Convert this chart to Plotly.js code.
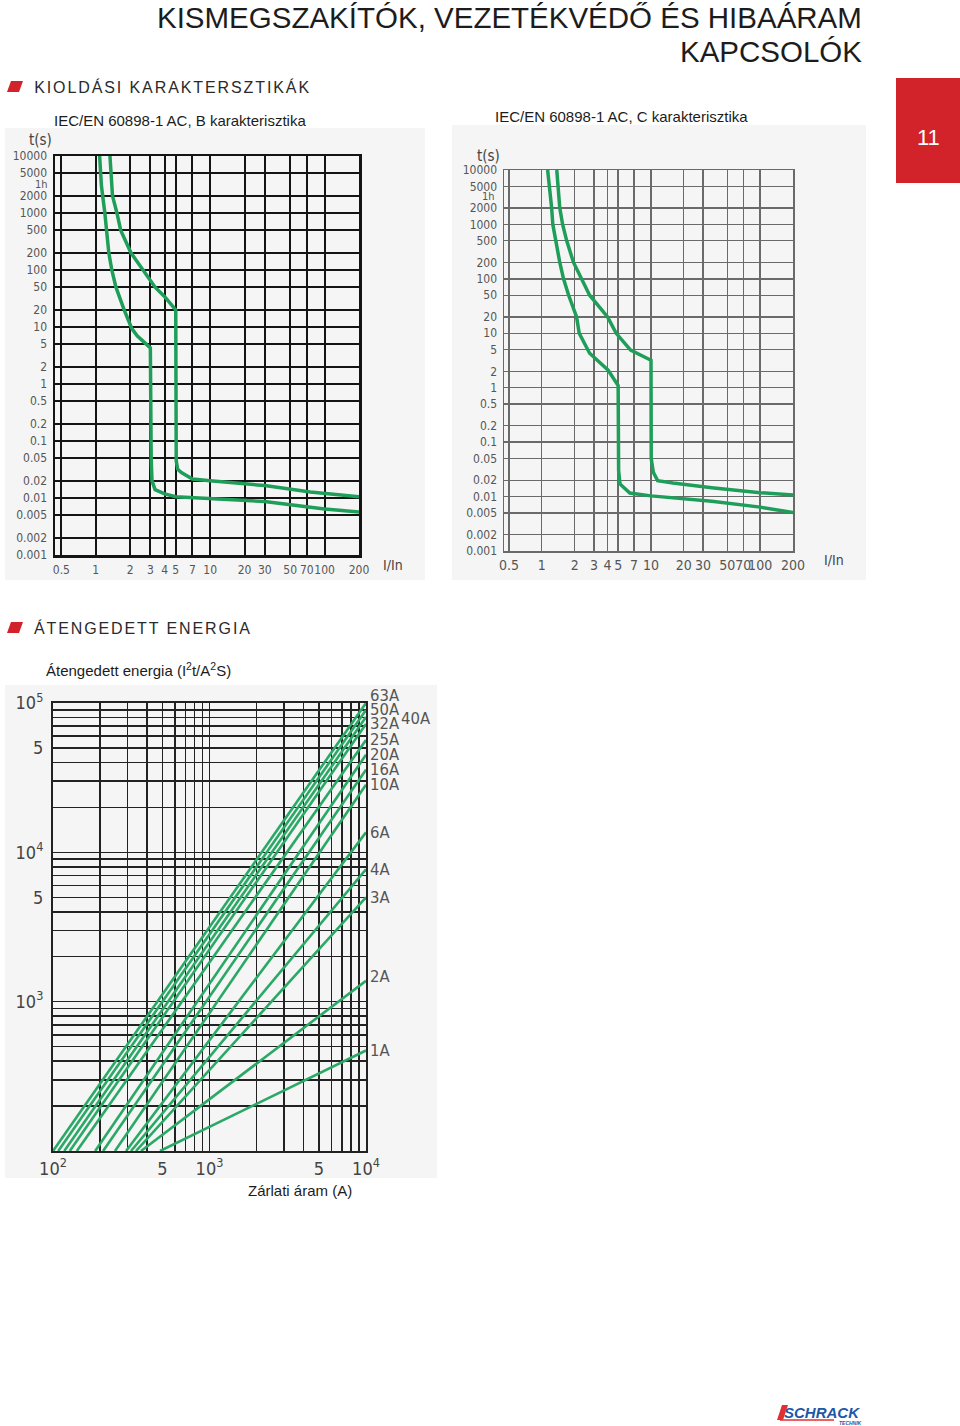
<!DOCTYPE html>
<html><head><meta charset="utf-8">
<script src="https://cdn.plot.ly/plotly-3.0.1.min.js"></script>
<style>html,body{margin:0;padding:0;background:#fff;} #chart{width:960px;height:1426px;}</style>
</head><body><div id="chart"></div>
<script>
// ---------- DATA ----------
const currentTicks = [0.5, 1, 2, 3, 4, 5, 7, 10, 20, 30, 50, 70, 100, 200];
const currentTickText = ['0.5', '1', '2', '3', '4', '5', '7', '10', '20', '30', '50', '70', '100', '200'];
const timeTicks = [0.001, 0.002, 0.005, 0.01, 0.02, 0.05, 0.1, 0.2, 0.5, 1, 2, 5, 10, 20, 50, 100, 200, 500, 1000, 2000, 5000, 10000];
const timeTickText = ['0.001', '0.002', '0.005', '0.01', '0.02', '0.05', '0.1', '0.2', '0.5', '1', '2', '5', '10', '20', '50', '100', '200', '500', '1000', '2000', '5000', '10000'];

// B characteristic
const bLowerX = [1.08, 1.12, 1.2, 1.3, 1.38, 1.5, 1.77, 2.06, 2.3, 2.7, 3.0, 3.05, 3.1, 3.3, 4, 5, 10, 30, 100, 200];
const bLowerT = [10000, 3000, 1000, 200, 100, 50, 20, 9.5, 7, 5.2, 4.3, 0.05, 0.02, 0.014, 0.0118, 0.0105, 0.0097, 0.0087, 0.0064, 0.0057];
const bUpperX = [1.33, 1.4, 1.53, 1.65, 2.03, 2.6, 3.3, 4, 5, 5.05, 5.2, 5.6, 7, 10, 30, 75, 200];
const bUpperT = [10000, 2000, 1000, 500, 200, 100, 50, 34, 20, 0.045, 0.032, 0.028, 0.0215, 0.02, 0.0165, 0.0128, 0.0105];

// C characteristic
const cLowerX = [1.13, 1.18, 1.23, 1.26, 1.34, 1.46, 1.58, 1.76, 2.08, 2.2, 2.74, 4.05, 5.0, 5.05, 5.2, 6.4, 10, 36, 100, 200];
const cLowerT = [10000, 5000, 2000, 1000, 500, 200, 100, 50, 20, 10, 4.3, 2.1, 1.1, 0.03, 0.017, 0.0116, 0.0103, 0.0082, 0.0064, 0.0051];
const cUpperX = [1.37, 1.4, 1.46, 1.55, 1.69, 1.95, 2.3, 2.74, 4.0, 4.8, 6.5, 10, 10.05, 10.5, 11.5, 15.9, 36, 100, 200];
const cUpperT = [10000, 5000, 2000, 1000, 500, 200, 100, 50, 20, 10, 4.9, 3.2, 0.05, 0.028, 0.0196, 0.0177, 0.0145, 0.0118, 0.0107];

// Let-through energy
const energyAmps = ['63A', '50A', '40A', '32A', '25A', '20A', '16A', '10A', '6A', '4A', '3A', '2A', '1A'];
const energyStartI = [100, 108, 118, 128, 142, 186, 209, 249, 293, 315, 339, 365, 483];     // current (A) where I²t = 100
const energyEndE = [100000, 89800, 80700, 72400, 56600, 45000, 35800, 28400, 13600, 7700, 5000, 1380, 471]; // I²t at 10 kA
const energyXTicks = [100, 500, 1000, 5000, 10000];
const energyXTickText = ['10<sup>2</sup>', '5', '10<sup>3</sup>', '5', '10<sup>4</sup>'];
const energyYTicks = [1000, 5000, 10000, 50000, 100000];
const energyYTickText = ['10<sup>3</sup>', '5', '10<sup>4</sup>', '5', '10<sup>5</sup>'];
const energyXGrid = [200, 300, 400, 600, 700, 800, 900, 2000, 3000, 4000, 6000, 7000, 8000, 9000];
const energyYGrid = [200, 300, 400, 500, 600, 700, 800, 900, 2000, 3000, 4000, 6000, 7000, 8000, 9000, 20000, 30000, 40000, 60000, 70000, 80000, 90000];

// ---------- HELPERS ----------
const W = 960, H = 1426;
const px = x => x / W;
const py = y => 1 - y / H;
const COND = 'DejaVu Sans Condensed, Liberation Sans Narrow, Arial Narrow, sans-serif';
const SANS = 'Liberation Sans, Arial, Helvetica, sans-serif';
const GREEN = '#1f9e5a';
const EGREEN = '#2aa865';
const RED = '#d2232a';

const traces = [];
function curve(x, y, xa, ya) {
  traces.push({x: x, y: y, xaxis: xa, yaxis: ya, type: 'scatter', mode: 'lines',
    line: {color: GREEN, width: 3.5}, hoverinfo: 'skip', showlegend: false});
}
curve(bLowerX, bLowerT, 'x', 'y');
curve(bUpperX, bUpperT, 'x', 'y');
curve(cLowerX, cLowerT, 'x2', 'y2');
curve(cUpperX, cUpperT, 'x2', 'y2');
energyAmps.forEach((a, i) => {
  traces.push({x: [energyStartI[i], 10000], y: [100, energyEndE[i]], xaxis: 'x3', yaxis: 'y3',
    type: 'scatter', mode: 'lines', line: {color: EGREEN, width: 2.6}, hoverinfo: 'skip', showlegend: false, name: a});
});

function tcAxis(dom, anchor, grid, gw, lw, fsize) {
  return {domain: dom, anchor: anchor, type: 'log', showgrid: true, gridcolor: grid, gridwidth: gw,
    showline: true, linecolor: grid, linewidth: lw, mirror: true, zeroline: false, ticks: '', tickangle: 0,
    tickfont: {family: COND, size: fsize, color: '#555'}, fixedrange: true};
}

const xB = Object.assign(tcAxis([px(55), px(359)], 'y', '#141414', 2, 2.5, 12),
  {range: [Math.log10(0.44), Math.log10(200)], tickmode: 'array', tickvals: currentTicks, ticktext: currentTickText, ticklabelstandoff: 2});
const yB = Object.assign(tcAxis([py(555), py(156)], 'x', '#141414', 2, 2.5, 12),
  {range: [-3, 4], tickmode: 'array', tickvals: timeTicks, ticktext: timeTickText, ticklabelstandoff: 3});
const xC = Object.assign(tcAxis([px(504), px(793)], 'y2', '#6a6a6a', 1.3, 1.5, 14),
  {range: [Math.log10(0.45), Math.log10(200)], tickmode: 'array', tickvals: currentTicks, ticktext: currentTickText, ticklabelstandoff: 1});
const yC = Object.assign(tcAxis([py(551), py(170)], 'x2', '#6a6a6a', 1.3, 1.5, 12),
  {range: [-3, 4], tickmode: 'array', tickvals: timeTicks, ticktext: timeTickText, ticklabelstandoff: 3});
const xE = {domain: [px(53), px(366)], anchor: 'y3', type: 'log', range: [2, 4], tickmode: 'array',
  tickvals: energyXTicks, ticktext: energyXTickText, showgrid: true, gridcolor: '#222', gridwidth: 1.5,
  minor: {tickmode: 'array', tickvals: energyXGrid, showgrid: true, gridcolor: '#222', gridwidth: 1.5, ticks: ''},
  showline: true, linecolor: '#222', linewidth: 2, mirror: true, ticks: '', zeroline: false, tickangle: 0,
  tickfont: {family: COND, size: 18, color: '#444'}, ticklabelstandoff: 0, fixedrange: true};
const yE = {domain: [py(1151), py(703)], anchor: 'x3', type: 'log', range: [2, 5], tickmode: 'array',
  tickvals: energyYTicks, ticktext: energyYTickText, showgrid: true, gridcolor: '#222', gridwidth: 1.5,
  minor: {tickmode: 'array', tickvals: energyYGrid, showgrid: true, gridcolor: '#222', gridwidth: 1.5, ticks: ''},
  showline: true, linecolor: '#222', linewidth: 2, mirror: true, ticks: '', zeroline: false,
  tickfont: {family: COND, size: 18, color: '#444'}, ticklabelstandoff: 4, fixedrange: true};

// ---------- ANNOTATIONS ----------
const ann = [];
function txt(t, x, y, opts) {
  ann.push(Object.assign({text: t, xref: 'paper', yref: 'paper', x: px(x), y: py(y), showarrow: false,
    xanchor: 'left', yanchor: 'middle', font: {family: SANS, size: 15, color: '#222'}}, opts || {}));
}
const LS = 1.9; // letter spacing of the section headers (px)
txt('KISMEGSZAKÍTÓK, VEZETÉKVÉDŐ ÉS HIBAÁRAM', 864, 17, {xanchor: 'right', font: {family: SANS, size: 29.5, color: '#1c1c1c'}});
txt('KAPCSOLÓK', 864, 51, {xanchor: 'right', font: {family: SANS, size: 29.5, color: '#1c1c1c'}});
txt('KIOLDÁSI KARAKTERSZTIKÁK', 32 + 24 * LS / 2, 87, {font: {family: SANS, size: 16, color: '#2a2a2a'}});
txt('ÁTENGEDETT ENERGIA', 32 + 18 * LS / 2, 628, {font: {family: SANS, size: 16, color: '#2a2a2a'}});
txt('IEC/EN 60898-1 AC, B karakterisztika', 52, 120, {font: {family: SANS, size: 15, color: '#1c1c1c'}});
txt('IEC/EN 60898-1 AC, C karakterisztika', 493, 117, {font: {family: SANS, size: 15, color: '#1c1c1c'}});
txt('Átengedett energia (I<sup>2</sup>t/A<sup>2</sup>S)', 44, 669, {font: {family: SANS, size: 15, color: '#1c1c1c'}});
txt('Zárlati áram (A)', 300, 1190, {xanchor: 'center', font: {family: SANS, size: 15, color: '#1c1c1c'}});
txt('11', 928, 137, {xanchor: 'center', font: {family: SANS, size: 22, color: '#ffffff'}});
txt('t(s)', 40, 140, {xanchor: 'center', font: {family: COND, size: 15, color: '#444'}});
txt('t(s)', 488, 156, {xanchor: 'center', font: {family: COND, size: 15, color: '#444'}});
txt('I/In', 381, 565, {font: {family: COND, size: 14, color: '#444'}});
txt('I/In', 822, 560, {font: {family: COND, size: 14, color: '#444'}});
txt('1h', 50, 184, {xanchor: 'right', font: {family: COND, size: 11, color: '#555'}});
txt('1h', 497, 197, {xanchor: 'right', font: {family: COND, size: 11, color: '#555'}});
// logo
txt('<b><i>SCHRACK</i></b>', 822, 1412, {xanchor: 'center', font: {family: SANS, size: 15, color: '#1d57a8'}});
txt('<b><i>TECHNIK</i></b>', 850, 1423, {xanchor: 'center', yanchor: 'middle', font: {family: SANS, size: 5, color: '#1d57a8'}});

// energy curve labels, placed at each line's end on the 10 kA edge
energyAmps.forEach((a, i) => {
  let xs = 2, ys = 0;
  if (a === '63A') ys = 8;
  if (a === '40A') { xs = 33; ys = -2; }
  if (a === '2A') ys = 4;
  ann.push({text: a, xref: 'x3', yref: 'y3', x: 4, y: Math.log10(energyEndE[i]), xanchor: 'left', yanchor: 'middle',
    xshift: xs, yshift: ys, showarrow: false, font: {family: COND, size: 16.5, color: '#555'}});
});

// ---------- SHAPES ----------
const shapes = [
  {type: 'rect', xref: 'paper', yref: 'paper', x0: px(5), x1: px(425), y0: py(580), y1: py(128), fillcolor: '#f5f5f5', line: {width: 0}, layer: 'below'},
  {type: 'rect', xref: 'paper', yref: 'paper', x0: px(452), x1: px(866), y0: py(580), y1: py(125), fillcolor: '#f5f5f5', line: {width: 0}, layer: 'below'},
  {type: 'rect', xref: 'paper', yref: 'paper', x0: px(5), x1: px(437), y0: py(1178), y1: py(685), fillcolor: '#f5f5f5', line: {width: 0}, layer: 'below'},
  {type: 'rect', xref: 'paper', yref: 'paper', x0: px(896), x1: px(960), y0: py(183), y1: py(78), fillcolor: RED, line: {width: 0}, layer: 'below'},
  {type: 'path', xref: 'paper', yref: 'paper', fillcolor: RED, line: {width: 0},
    path: `M ${px(11)} ${py(81)} L ${px(23)} ${py(81)} L ${px(19)} ${py(92)} L ${px(7)} ${py(92)} Z`},
  {type: 'path', xref: 'paper', yref: 'paper', fillcolor: RED, line: {width: 0},
    path: `M ${px(11)} ${py(622)} L ${px(23)} ${py(622)} L ${px(19)} ${py(633)} L ${px(7)} ${py(633)} Z`},
  {type: 'path', xref: 'paper', yref: 'paper', fillcolor: '#e03030', line: {width: 0},
    path: `M ${px(782)} ${py(1405)} L ${px(788)} ${py(1405)} L ${px(783)} ${py(1420)} L ${px(777)} ${py(1420)} Z`},
  {type: 'line', xref: 'paper', yref: 'paper', x0: px(780), x1: px(834), y0: py(1420), y1: py(1420), line: {color: '#e03030', width: 1.5}}
];

const layout = {
  width: W, height: H, margin: {l: 0, r: 0, t: 0, b: 0},
  paper_bgcolor: '#ffffff', plot_bgcolor: 'rgba(0,0,0,0)', showlegend: false,
  xaxis: xB, yaxis: yB, xaxis2: xC, yaxis2: yC, xaxis3: xE, yaxis3: yE,
  annotations: ann, shapes: shapes
};

Plotly.newPlot('chart', traces, layout, {staticPlot: true, displayModeBar: false}).then(() => {
  document.querySelectorAll('.annotation-text').forEach(el => {
    const t = el.textContent;
    if (t === 'KIOLDÁSI KARAKTERSZTIKÁK' || t === 'ÁTENGEDETT ENERGIA') el.style.letterSpacing = LS + 'px';
  });
});
</script>
</body></html>
